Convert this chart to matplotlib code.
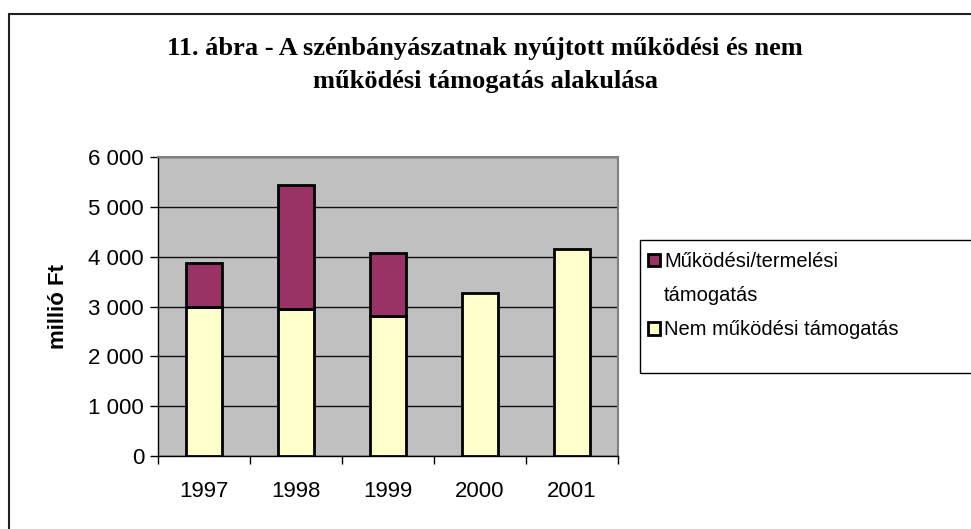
import matplotlib
matplotlib.use('Agg')
import matplotlib.pyplot as plt
import matplotlib.ticker as mticker
from matplotlib.patches import Rectangle
import numpy as np

# data (millió Ft)
years = ['1997', '1998', '1999', '2000', '2001']
nem_mukodesi = [2990, 2940, 2800, 3275, 4145]
mukodesi = [880, 2505, 1265, 0, 0]

title_lines = ['11. ábra - A szénbányászatnak nyújtott működési és nem',
               'működési támogatás alakulása']

W, H = 971, 529
fig = plt.figure(figsize=(W / 100, H / 100), dpi=100)

# outer chart border (cut off at right and bottom like the original)
fig.patches.append(Rectangle((9 / W, -1), 2, 1 - 14 / H + 1, transform=fig.transFigure,
                             fill=False, edgecolor='#202020', linewidth=1.5))

ax = fig.add_axes([158 / W, 1 - 456 / H, 460 / W, 299 / H])
ax.set_facecolor('#C0C0C0')

x = np.arange(len(years))
b1 = ax.bar(x, nem_mukodesi, width=0.40, color='#FFFFCC', edgecolor='black',
            linewidth=2, label='Nem működési támogatás', zorder=3)
b2 = ax.bar(x, mukodesi, width=0.40, bottom=nem_mukodesi, color='#993366',
            edgecolor='black', linewidth=2, label='Működési/termelési', zorder=3)
# hide empty top segments
for r, v in zip(b2, mukodesi):
    if v == 0:
        r.set_visible(False)

ax.set_xlim(-0.5, len(years) - 0.5)
ax.set_ylim(0, 6000)
ax.yaxis.set_major_locator(mticker.MultipleLocator(1000))
ax.yaxis.set_major_formatter(mticker.FuncFormatter(lambda v, p: f'{v:,.0f}'.replace(',', ' ')))
ax.grid(axis='y', color='#111111', linewidth=1, zorder=1)

ax.set_xticks(np.arange(-0.5, len(years)), minor=False)
ax.set_xticklabels([])
ax.set_xticks(x, minor=True)
ax.set_xticklabels(years, minor=True)
ax.tick_params(axis='x', which='major', direction='out', length=6, width=1)
ax.tick_params(axis='x', which='minor', length=0, pad=18, labelsize=16)
ax.tick_params(axis='y', direction='out', length=6, width=1, labelsize=16, pad=4)

for s in ['top', 'right']:
    ax.spines[s].set_color('#808080')
    ax.spines[s].set_linewidth(1.5)
for s in ['left', 'bottom']:
    ax.spines[s].set_color('black')
    ax.spines[s].set_linewidth(1)

ax.set_ylabel('millió Ft', fontsize=16, fontweight='bold', labelpad=14)

for lbl in ax.get_xticklabels(minor=True) + ax.get_yticklabels():
    lbl.set_family('Liberation Sans')
ax.yaxis.label.set_family('Liberation Sans')

fig.text(485 / W, 1 - 55 / H, title_lines[0], ha='center', va='baseline',
         fontsize=19, fontweight='bold', family='Liberation Serif')
fig.text(485 / W, 1 - 88 / H, title_lines[1], ha='center', va='baseline',
         fontsize=19, fontweight='bold', family='Liberation Serif')

# legend box (extends beyond the right edge)
fig.patches.append(Rectangle((640 / W, 1 - 373 / H), 1, 133 / H, transform=fig.transFigure,
                             fill=False, edgecolor='black', linewidth=1))
blank = Rectangle((0, 0), 1, 1, fill=False, edgecolor='none')
leg = fig.legend([b2, blank, b1], [b2.get_label(), 'támogatás', b1.get_label()],
                 loc='upper left', bbox_to_anchor=(634 / W, 1 - 238 / H),
                 frameon=False, prop={'family': 'Liberation Sans', 'size': 14.5},
                 handlelength=0.6, handleheight=0.6, handletextpad=0.2,
                 labelspacing=0.75, borderpad=0.2)

fig.savefig('out.png', dpi=100)
